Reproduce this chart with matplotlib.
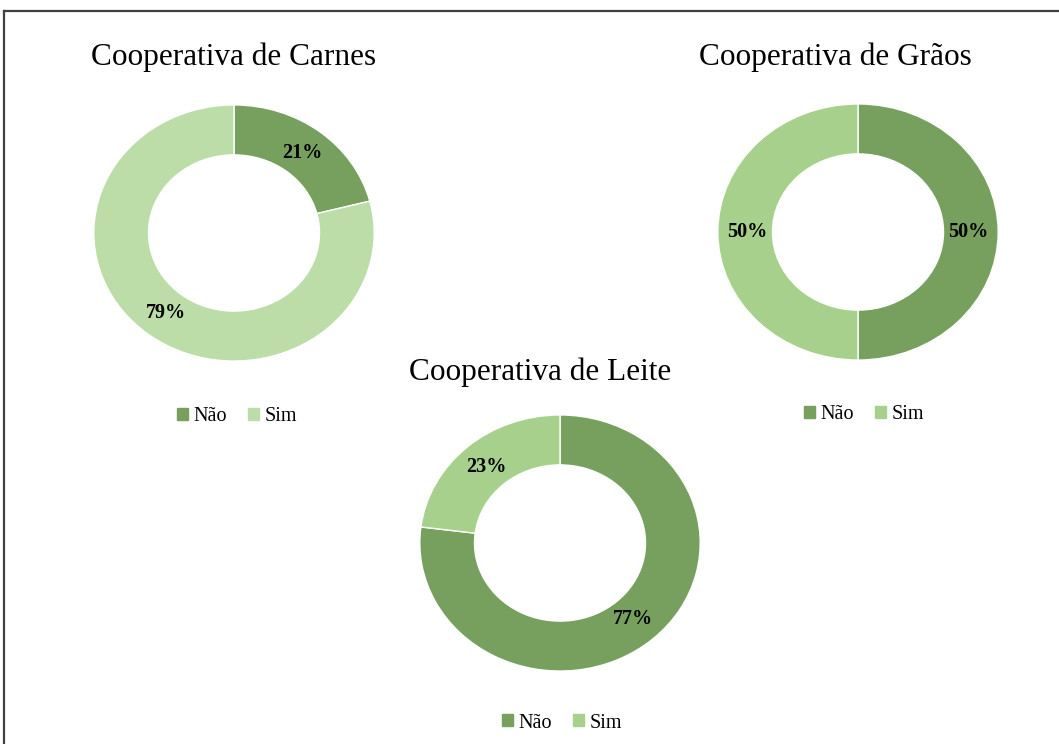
import matplotlib.pyplot as plt
from matplotlib.patches import Patch
from matplotlib.lines import Line2D

plt.rcParams['font.family'] = ['Liberation Serif', 'DejaVu Serif']

# data
LABELS = ["Não", "Sim"]
TITLES = ["Cooperativa de Carnes", "Cooperativa de Grãos", "Cooperativa de Leite"]
CARNES = [21, 79]
GRAOS = [50, 50]
LEITE = [77, 23]
COLORS = {
    "Cooperativa de Carnes": ["#77a05f", "#bcdca8"],
    "Cooperativa de Grãos": ["#77a05f", "#a8d08d"],
    "Cooperativa de Leite": ["#77a05f", "#a8d08d"],
}

W, H = 1059, 744
fig = plt.figure(figsize=(W / 100, H / 100), dpi=100)

# frame lines (top and left)
fig.add_artist(Line2D([4 / W, 1], [1 - 11 / H, 1 - 11 / H], transform=fig.transFigure, color="#404040", lw=1.6))
fig.add_artist(Line2D([4 / W, 4 / W], [0, 1 - 11 / H], transform=fig.transFigure, color="#404040", lw=1.6))

# (center x, center y, title x, title y, legend x, legend y) in pixels
PLACES = [
    (234, 233, 234, 57, 237, 417),
    (858, 232, 835, 57, 864, 415),
    (560, 543, 540, 372, 562, 723),
]
AW, AH = 300, 274  # the reference donuts are slightly wider than tall

for title, values, (cx, cy, tx, ty, lx, ly) in zip(TITLES, [CARNES, GRAOS, LEITE], PLACES):
    ax = fig.add_axes([(cx - AW / 2) / W, (H - cy - AH / 2) / H, AW / W, AH / H])
    wedges, texts, autotexts = ax.pie(
        values, colors=COLORS[title], startangle=90, counterclock=False,
        radius=1, wedgeprops=dict(width=0.39, edgecolor="white", linewidth=1),
        autopct="%d%%", pctdistance=0.79,
        textprops=dict(fontsize=14.5, fontweight="bold", color="black"))
    ax.set_xlim(-1.07, 1.07)
    ax.set_ylim(-1.07, 1.07)
    ax.set_aspect("auto")
    ax.axis("off")
    fig.text(tx / W, 1 - ty / H, title, ha="center", va="center", fontsize=22.5)
    handles = [Patch(color=c, label=l) for c, l in zip(COLORS[title], LABELS)]
    fig.legend(handles=handles, loc="center", bbox_to_anchor=(lx / W, 1 - ly / H),
               ncol=2, frameon=False, fontsize=14.5, handlelength=0.55, handleheight=0.55,
               handletextpad=0.3, columnspacing=1.0)

fig.savefig("out.png", dpi=100, facecolor="white")
